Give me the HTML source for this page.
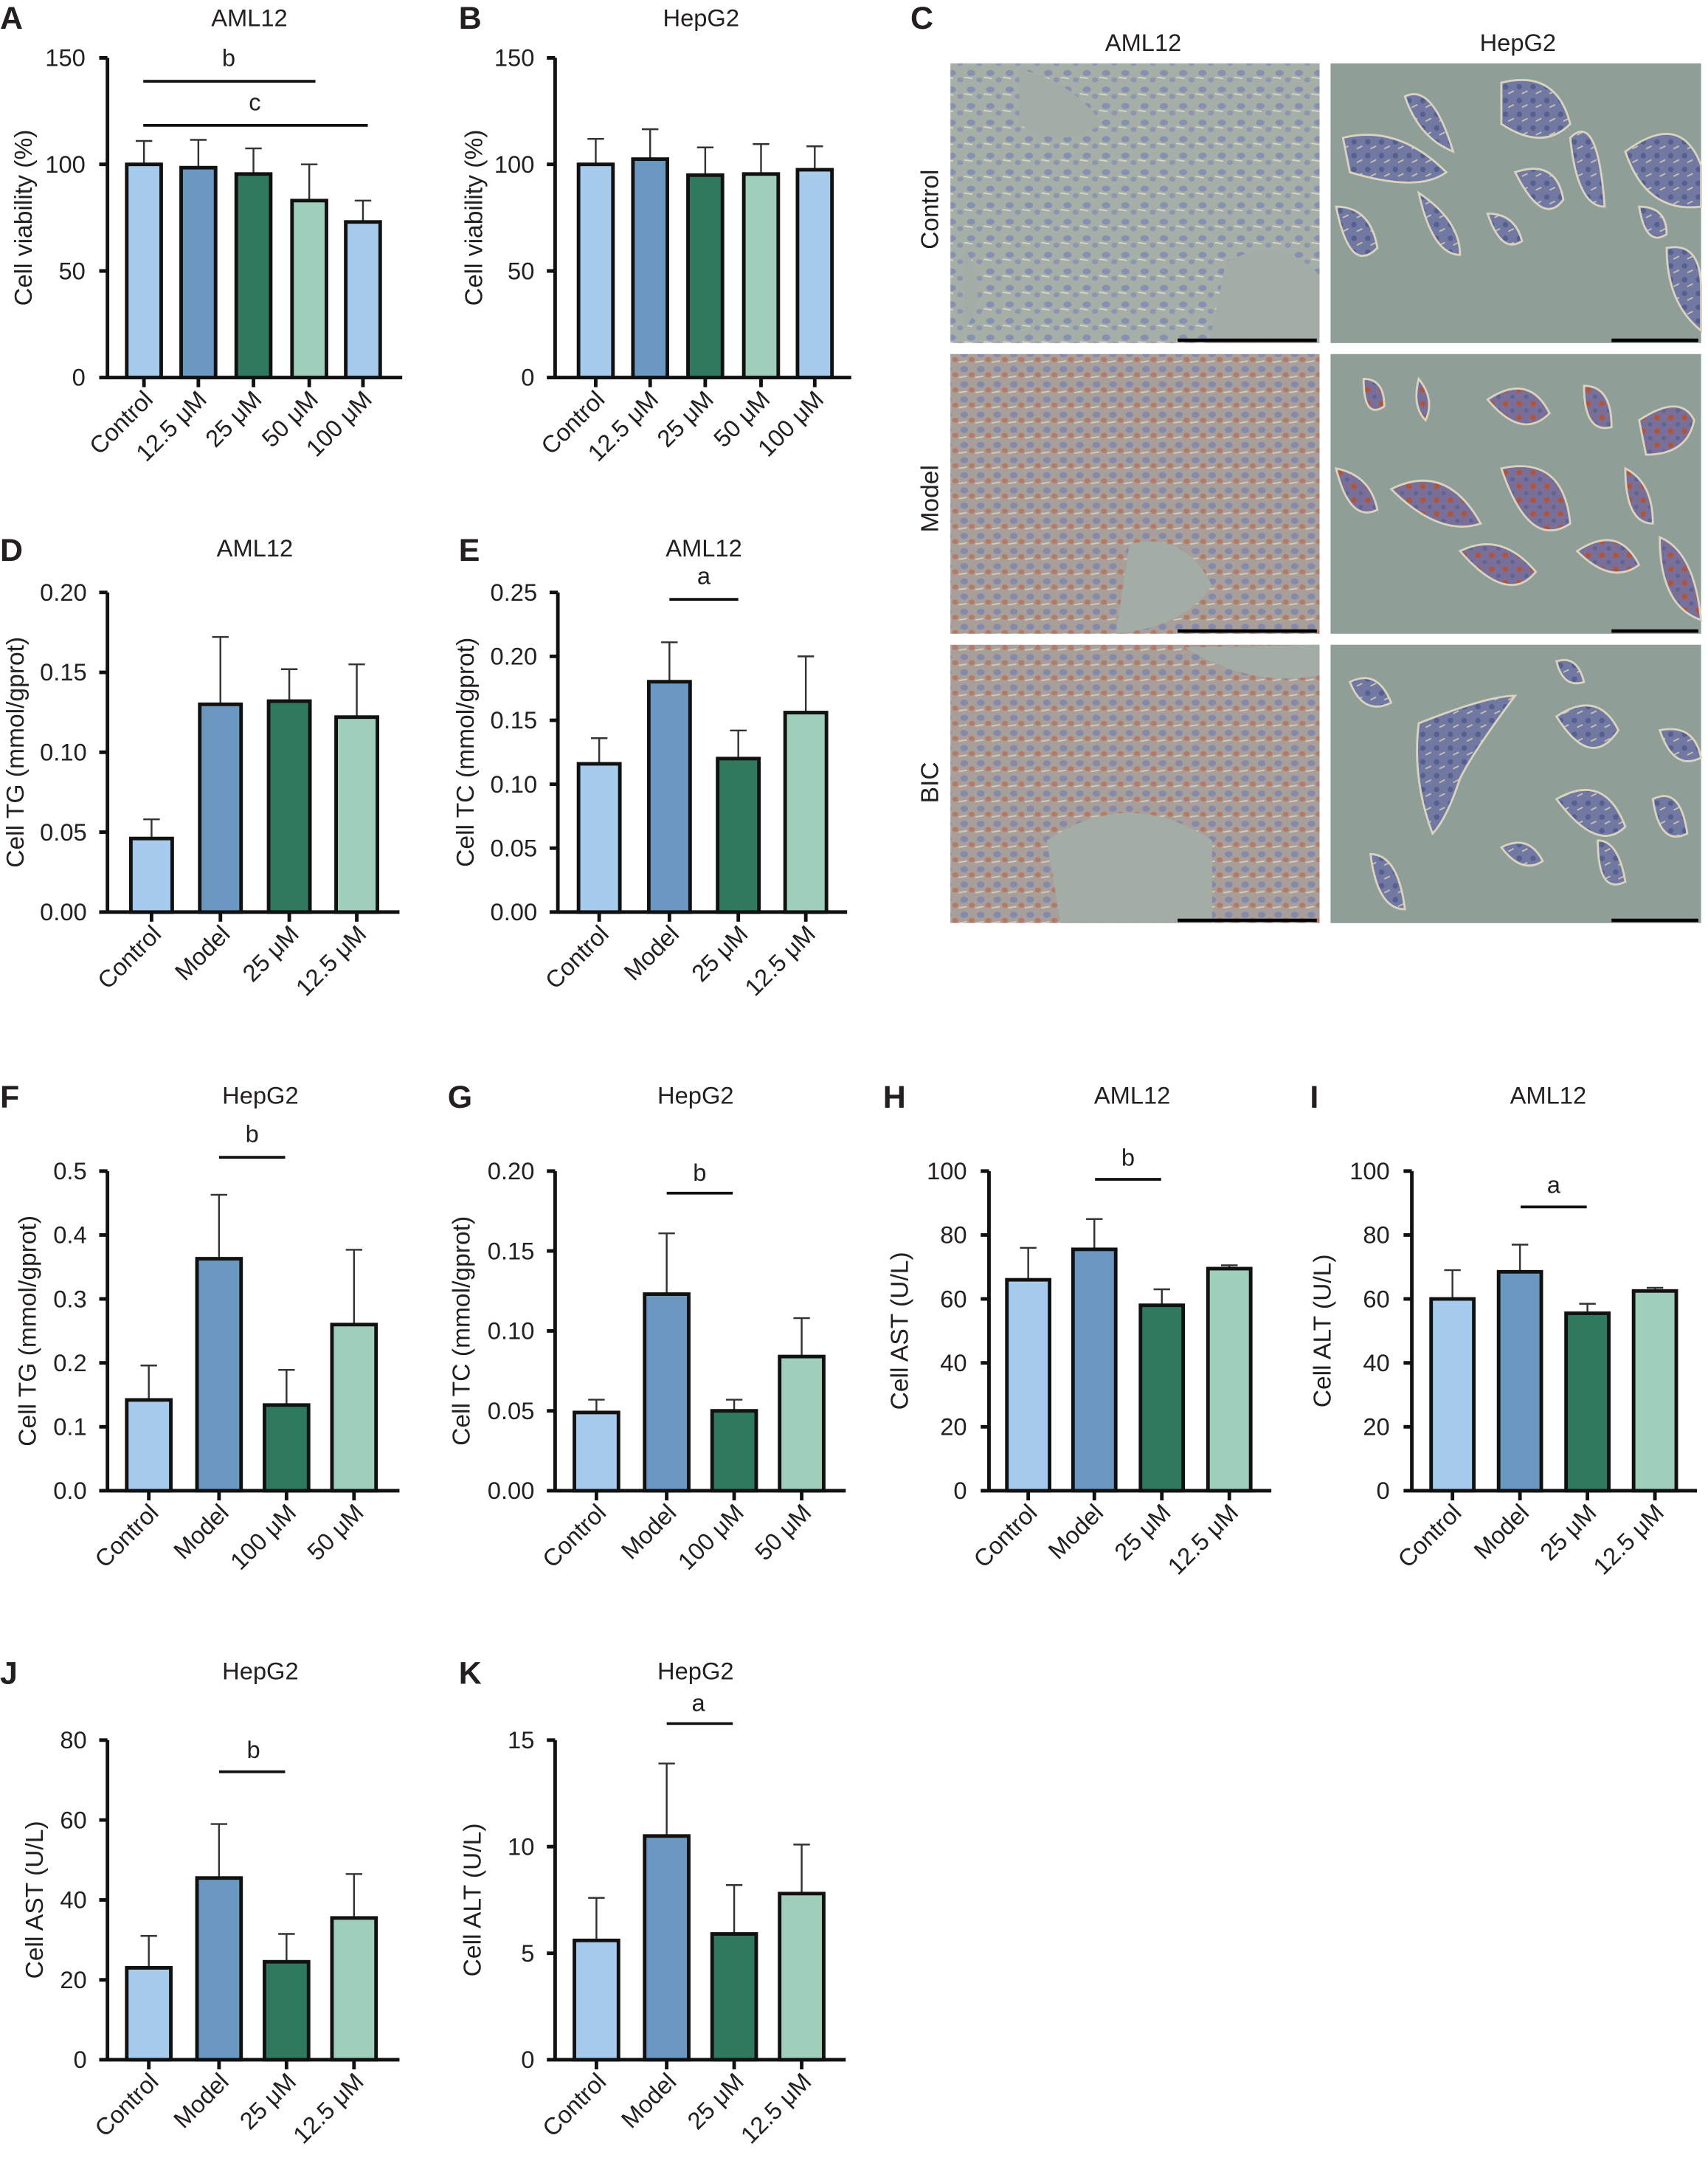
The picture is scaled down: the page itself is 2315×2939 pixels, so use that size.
<!DOCTYPE html>
<html><head><meta charset="utf-8"><style>
html,body{margin:0;padding:0;background:#fff}
svg{display:block}
text{font-family:"Liberation Sans",sans-serif;fill:#231f20}
.t{font-size:17.5px}
.ti{font-size:17.5px;text-anchor:middle}
.yl{font-size:18px;text-anchor:middle}
.L{font-size:23px;font-weight:bold}
.ax{stroke:#111;stroke-width:2.6;fill:none}
.eb{stroke:#333;stroke-width:1.3;fill:none}
.b{stroke:#111;stroke-width:2.6}
.lb{fill:#a7cbec}.mb{fill:#6a98c1}.dg{fill:#2f7a5f}.mt{fill:#9fcfbb}
</style></head><body>
<svg width="2315" height="2939" viewBox="0 0 1240 1574.3" xmlns="http://www.w3.org/2000/svg">
<defs>
<pattern id="pa" width="14" height="12" patternUnits="userSpaceOnUse"><rect width="14" height="12" fill="#a6aea8"/><ellipse cx="5" cy="5" rx="3" ry="2.2" fill="#8690b0"/><ellipse cx="11" cy="10" rx="2.2" ry="1.8" fill="#8d95b0"/><path d="M0 8 L6 9" stroke="#d8d6c4" stroke-width="1"/></pattern>
<pattern id="pm" width="12" height="11" patternUnits="userSpaceOnUse"><rect width="12" height="11" fill="#a89f9a"/><ellipse cx="4" cy="4" rx="2.8" ry="2.2" fill="#8589ab"/><ellipse cx="9.5" cy="8" rx="2.2" ry="1.8" fill="#b47a66"/><path d="M0 10 L6 9" stroke="#d6cbbf" stroke-width="1"/></pattern>
<pattern id="hc" width="10" height="10" patternUnits="userSpaceOnUse"><rect width="10" height="10" fill="#7179a3"/><circle cx="3" cy="3" r="2" fill="#56608f"/><path d="M5 8 L9 6" stroke="#c9c3b0" stroke-width="1"/></pattern>
<pattern id="hm" width="10" height="10" patternUnits="userSpaceOnUse"><rect width="10" height="10" fill="#7a6f98"/><circle cx="3" cy="3" r="2" fill="#b0553a"/><circle cx="8" cy="8" r="1.6" fill="#5d6593"/></pattern>
</defs>

<!-- ===== A ===== -->
<text class="L" x="0" y="21">A</text>
<text class="ti" x="181" y="19">AML12</text>
<text class="yl" transform="translate(23,158) rotate(-90)">Cell viability (%)</text>
<g class="t" text-anchor="end">
<text x="62" y="48">150</text><text x="62" y="125.3">100</text><text x="62" y="202.7">50</text><text x="62" y="280">0</text></g>
<path class="ax" d="M78 42V274M72 42H78M72 119.3H78M72 196.7H78M72 274H78M78 274H292M104.5 274v7M144 274v7M184 274v7M224.5 274v7M263.5 274v7"/>
<path class="eb" d="M104.5 119.3V102.3M98.5 102.3h12M144 121.7V101.5M138 101.5h12M184 126.3V107.7M178 107.7h12M224.5 145.6V119.3M218.5 119.3h12M263.5 161.1V145.6M257.5 145.6h12"/>
<rect class="b lb" x="92" y="119.3" width="25" height="154.7"/><rect class="b mb" x="131.5" y="121.7" width="25" height="152.3"/><rect class="b dg" x="171.5" y="126.3" width="25" height="147.7"/><rect class="b mt" x="212" y="145.6" width="25" height="128.4"/><rect class="b lb" x="251" y="161.1" width="25" height="112.9"/>
<path class="ax" style="stroke-width:2" d="M104 59H229M104 91H267"/>
<text class="t" x="166" y="48" text-anchor="middle">b</text><text class="t" x="185" y="80" text-anchor="middle">c</text>
<g class="t" text-anchor="end">
<text transform="translate(112,291) rotate(-45)">Control</text><text transform="translate(151,291) rotate(-45)">12.5 μM</text><text transform="translate(191,291) rotate(-45)">25 μM</text><text transform="translate(232,291) rotate(-45)">50 μM</text><text transform="translate(271,291) rotate(-45)">100 μM</text></g>

<!-- ===== B ===== -->
<text class="L" x="333" y="21">B</text>
<text class="ti" x="509" y="19">HepG2</text>
<text class="yl" transform="translate(350,158) rotate(-90)">Cell viability (%)</text>
<g class="t" text-anchor="end">
<text x="388" y="48">150</text><text x="388" y="125.3">100</text><text x="388" y="202.7">50</text><text x="388" y="280">0</text></g>
<path class="ax" d="M403 42V274M397 42H403M397 119.3H403M397 196.7H403M397 274H403M403 274H618M432.5 274v7M472 274v7M512 274v7M552.5 274v7M591.5 274v7"/>
<path class="eb" d="M432.5 119.3V100.8M426.5 100.8h12M472 115.5V93.8M466 93.8h12M512 127.1V107M506 107h12M552.5 126.3V104.6M546.5 104.6h12M591.5 123.2V106.2M585.5 106.2h12"/>
<rect class="b lb" x="420" y="119.3" width="25" height="154.7"/><rect class="b mb" x="459.5" y="115.5" width="25" height="158.5"/><rect class="b dg" x="499.5" y="127.1" width="25" height="146.9"/><rect class="b mt" x="540" y="126.3" width="25" height="147.7"/><rect class="b lb" x="579" y="123.2" width="25" height="150.8"/>
<g class="t" text-anchor="end">
<text transform="translate(440,291) rotate(-45)">Control</text><text transform="translate(479,291) rotate(-45)">12.5 μM</text><text transform="translate(519,291) rotate(-45)">25 μM</text><text transform="translate(560,291) rotate(-45)">50 μM</text><text transform="translate(599,291) rotate(-45)">100 μM</text></g>

<!-- ===== C ===== -->
<text class="L" x="661" y="21">C</text>
<text class="ti" x="830" y="37">AML12</text><text class="ti" x="1102" y="37">HepG2</text>
<text class="yl" transform="translate(681,152) rotate(-90)">Control</text>
<text class="yl" transform="translate(681,362) rotate(-90)">Model</text>
<text class="yl" transform="translate(681,568) rotate(-90)">BIC</text>
<rect x="690" y="46" width="268" height="203" fill="url(#pa)"/>
<rect x="690" y="257" width="268" height="203" fill="url(#pm)"/>
<rect x="690" y="468" width="268" height="202" fill="url(#pm)"/>
<g fill="#a3ada6"><path d="M740 50 q40 10 60 40 q-30 20 -60 0z"/><path d="M890 190 q40 -20 68 10 v49 h-80z"/><path d="M700 180 q20 30 0 60z"/><path d="M820 395 q40 -10 60 30 q-20 30 -70 35z"/><path d="M760 610 q60 -40 120 0 v60 h-110z"/><path d="M860 470 q50 30 98 20 v-22z"/></g>
<rect x="966" y="46" width="269" height="203" fill="#8f9e96"/>
<rect x="966" y="257" width="269" height="203" fill="#8f9e96"/>
<rect x="966" y="468" width="269" height="202" fill="#8f9e96"/>
<g fill="url(#hc)" stroke="#d9d3bf" stroke-width="1.5">
<path d="M975 100 q40 -10 75 25 q-20 15 -70 0z"/><path d="M1020 70 q20 -10 35 40 q-25 -10 -35 -40z"/><path d="M1090 60 q40 -10 50 30 q-20 20 -50 0z"/><path d="M1140 100 q20 -20 25 50 q-20 0 -25 -50z"/><path d="M1180 110 q40 -30 55 10 v30 q-40 5 -55 -40z"/><path d="M1100 125 q30 -10 35 20 q-15 20 -35 -20z"/><path d="M970 150 q25 0 30 30 q-20 20 -30 -30z"/><path d="M1030 140 q30 20 30 45 q-20 0 -30 -45z"/><path d="M1080 155 q20 0 25 20 q-15 10 -25 -20z"/><path d="M1190 150 q20 0 20 20 q-15 10 -20 -20z"/><path d="M1210 180 q25 -5 25 30 v30 q-25 -20 -25 -60z"/></g>
<g fill="url(#hm)" stroke="#d9d3bf" stroke-width="1.5">
<path d="M990 275 q15 0 15 20 q-15 10 -15 -20z"/><path d="M1030 275 q12 15 5 30 q-10 -10 -5 -30z"/><path d="M1080 290 q30 -20 45 10 q-20 20 -45 -10z"/><path d="M1150 280 q20 0 20 30 q-20 5 -20 -30z"/><path d="M1190 305 q30 -20 40 0 q-5 25 -35 25z"/><path d="M1010 355 q40 -20 65 25 q-30 10 -65 -25z"/><path d="M1090 340 q45 -10 50 40 q-30 20 -50 -40z"/><path d="M1180 340 q20 10 20 40 q-20 0 -20 -40z"/><path d="M1060 400 q30 -15 55 15 q-20 25 -55 -15z"/><path d="M1145 400 q30 -20 45 10 q-20 15 -45 -10z"/><path d="M1205 390 q25 10 30 60 q-30 -10 -30 -60z"/><path d="M970 340 q25 5 30 30 q-20 10 -30 -30z"/></g>
<g fill="url(#hc)" stroke="#d9d3bf" stroke-width="1.5">
<path d="M980 495 q20 -10 30 15 q-20 10 -30 -15z"/><path d="M1130 480 q15 -5 20 15 q-15 5 -20 -15z"/><path d="M1030 525 q50 -20 70 -20 q-30 40 -40 60 q-10 30 -20 40 q-15 -40 -10 -80z"/><path d="M1130 520 q30 -20 45 10 q-20 30 -45 -10z"/><path d="M1205 530 q25 -5 30 20 q-20 10 -30 -20z"/><path d="M1130 580 q35 -20 50 20 q-20 20 -50 -20z"/><path d="M1200 580 q20 -10 25 25 q-20 10 -25 -25z"/><path d="M1090 615 q20 -10 30 10 q-15 10 -30 -10z"/><path d="M1160 610 q15 0 20 30 q-20 10 -20 -30z"/><path d="M995 620 q20 0 25 40 q-20 0 -25 -40z"/></g>
<path stroke="#000" stroke-width="2.5" d="M855 247H956M1170 247H1233M855 458H956M1170 458H1233M855 668H956M1170 668H1233"/>

<!-- ===== D ===== -->
<text class="L" x="0" y="407">D</text>
<text class="ti" x="185" y="404">AML12</text>
<text class="yl" transform="translate(17,546) rotate(-90)">Cell TG (mmol/gprot)</text>
<g class="t" text-anchor="end">
<text x="63" y="436">0.20</text><text x="63" y="494">0.15</text><text x="63" y="552">0.10</text><text x="63" y="610">0.05</text><text x="63" y="668">0.00</text></g>
<path class="ax" d="M78 430V662M72 430H78M72 488H78M72 546H78M72 604H78M72 662H78M78 662H290M110 662v7M160 662v7M210 662v7M259 662v7"/>
<path class="eb" d="M110 608.6V594.7M104 594.7h12M160 511.2V462.3M154 462.3h12M210 508.9V485.7M204 485.7h12M259 520.5V482.2M253 482.2h12"/>
<rect class="b lb" x="95" y="608.6" width="30" height="53.4"/><rect class="b mb" x="145" y="511.2" width="30" height="150.8"/><rect class="b dg" x="195" y="508.9" width="30" height="153.1"/><rect class="b mt" x="244" y="520.5" width="30" height="141.5"/>
<g class="t" text-anchor="end">
<text transform="translate(118,679) rotate(-45)">Control</text><text transform="translate(168,679) rotate(-45)">Model</text><text transform="translate(218,679) rotate(-45)">25 μM</text><text transform="translate(267,679) rotate(-45)">12.5 μM</text></g>

<!-- ===== E ===== -->
<text class="L" x="333" y="407">E</text>
<text class="ti" x="511" y="404">AML12</text>
<text class="yl" transform="translate(344,546) rotate(-90)">Cell TC (mmol/gprot)</text>
<g class="t" text-anchor="end">
<text x="390" y="436">0.25</text><text x="390" y="482.4">0.20</text><text x="390" y="528.8">0.15</text><text x="390" y="575.2">0.10</text><text x="390" y="621.6">0.05</text><text x="390" y="668">0.00</text></g>
<path class="ax" d="M405 430V662M399 430H405M399 476.4H405M399 522.8H405M399 569.2H405M399 615.6H405M399 662H405M405 662H615M435 662v7M486 662v7M536 662v7M585 662v7"/>
<path class="eb" d="M435 554.4V535.8M429 535.8h12M486 494.8V466.2M480 466.2h12M536 550.6V530.2M530 530.2h12M585 517.2V476.4M579 476.4h12"/>
<rect class="b lb" x="420" y="554.4" width="30" height="107.6"/><rect class="b mb" x="471" y="494.8" width="30" height="167.2"/><rect class="b dg" x="521" y="550.6" width="30" height="111.4"/><rect class="b mt" x="570" y="517.2" width="30" height="144.8"/>
<path class="ax" style="stroke-width:2" d="M486 435H536"/><text class="t" x="511" y="424" text-anchor="middle">a</text>
<g class="t" text-anchor="end">
<text transform="translate(443,679) rotate(-45)">Control</text><text transform="translate(494,679) rotate(-45)">Model</text><text transform="translate(544,679) rotate(-45)">25 μM</text><text transform="translate(593,679) rotate(-45)">12.5 μM</text></g>

<!-- ===== F ===== -->
<text class="L" x="0" y="804">F</text>
<text class="ti" x="189" y="801">HepG2</text>
<text class="yl" transform="translate(26,966) rotate(-90)">Cell TG (mmol/gprot)</text>
<g class="t" text-anchor="end">
<text x="63" y="856">0.5</text><text x="63" y="902.4">0.4</text><text x="63" y="948.8">0.3</text><text x="63" y="995.2">0.2</text><text x="63" y="1041.6">0.1</text><text x="63" y="1088">0.0</text></g>
<path class="ax" d="M78 850V1082M72 850H78M72 896.4H78M72 942.8H78M72 989.2H78M72 1035.6H78M72 1082H78M78 1082H290M108 1082v7M159 1082v7M208 1082v7M257 1082v7"/>
<path class="eb" d="M108 1016.1V991.1M102 991.1h12M159 913.6V867.2M153 867.2h12M208 1019.8V994.3M202 994.3h12M257 961.4V907.1M251 907.1h12"/>
<rect class="b lb" x="92" y="1016.1" width="32" height="65.9"/><rect class="b mb" x="143" y="913.6" width="32" height="168.4"/><rect class="b dg" x="192" y="1019.8" width="32" height="62.2"/><rect class="b mt" x="241" y="961.4" width="32" height="120.6"/>
<path class="ax" style="stroke-width:2" d="M159 840H207"/><text class="t" x="183" y="829" text-anchor="middle">b</text>
<g class="t" text-anchor="end">
<text transform="translate(116,1099) rotate(-45)">Control</text><text transform="translate(167,1099) rotate(-45)">Model</text><text transform="translate(216,1099) rotate(-45)">100 μM</text><text transform="translate(265,1099) rotate(-45)">50 μM</text></g>

<!-- ===== G ===== -->
<text class="L" x="325" y="804">G</text>
<text class="ti" x="505" y="801">HepG2</text>
<text class="yl" transform="translate(341,966) rotate(-90)">Cell TC (mmol/gprot)</text>
<g class="t" text-anchor="end">
<text x="388" y="856">0.20</text><text x="388" y="914">0.15</text><text x="388" y="972">0.10</text><text x="388" y="1030">0.05</text><text x="388" y="1088">0.00</text></g>
<path class="ax" d="M403 850V1082M397 850H403M397 908H403M397 966H403M397 1024H403M397 1082H403M403 1082H614M433 1082v7M484 1082v7M533 1082v7M582 1082v7"/>
<path class="eb" d="M433 1025.2V1015.9M427 1015.9h12M484 939.3V895.2M478 895.2h12M533 1024V1015.9M527 1015.9h12M582 984.6V956.7M576 956.7h12"/>
<rect class="b lb" x="417" y="1025.2" width="32" height="56.8"/><rect class="b mb" x="468" y="939.3" width="32" height="142.7"/><rect class="b dg" x="517" y="1024" width="32" height="58"/><rect class="b mt" x="566" y="984.6" width="32" height="97.4"/>
<path class="ax" style="stroke-width:2" d="M484 866H532"/><text class="t" x="508" y="857" text-anchor="middle">b</text>
<g class="t" text-anchor="end">
<text transform="translate(441,1099) rotate(-45)">Control</text><text transform="translate(492,1099) rotate(-45)">Model</text><text transform="translate(541,1099) rotate(-45)">100 μM</text><text transform="translate(590,1099) rotate(-45)">50 μM</text></g>

<!-- ===== H ===== -->
<text class="L" x="641" y="804">H</text>
<text class="ti" x="822" y="801">AML12</text>
<text class="yl" transform="translate(659,966) rotate(-90)">Cell AST (U/L)</text>
<g class="t" text-anchor="end">
<text x="702" y="856">100</text><text x="702" y="902.4">80</text><text x="702" y="948.8">60</text><text x="702" y="995.2">40</text><text x="702" y="1041.6">20</text><text x="702" y="1088">0</text></g>
<path class="ax" d="M718 850V1082M712 850H718M712 896.4H718M712 942.8H718M712 989.2H718M712 1035.6H718M712 1082H718M718 1082H923M746.5 1082v7M794.5 1082v7M843.5 1082v7M892.5 1082v7"/>
<path class="eb" d="M746.5 928.9V905.7M740.5 905.7h12M794.5 906.8V884.8M788.5 884.8h12M843.5 947.4V935.8M837.5 935.8h12M892.5 920.8V918.4M886.5 918.4h12"/>
<rect class="b lb" x="731" y="928.9" width="31" height="153.1"/><rect class="b mb" x="779" y="906.8" width="31" height="175.2"/><rect class="b dg" x="828" y="947.4" width="31" height="134.6"/><rect class="b mt" x="877" y="920.8" width="31" height="161.2"/>
<path class="ax" style="stroke-width:2" d="M795 856H843"/><text class="t" x="819" y="846" text-anchor="middle">b</text>
<g class="t" text-anchor="end">
<text transform="translate(754,1099) rotate(-45)">Control</text><text transform="translate(802,1099) rotate(-45)">Model</text><text transform="translate(851,1099) rotate(-45)">25 μM</text><text transform="translate(900,1099) rotate(-45)">12.5 μM</text></g>

<!-- ===== I ===== -->
<text class="L" x="951" y="804">I</text>
<text class="ti" x="1124" y="801">AML12</text>
<text class="yl" transform="translate(966,966) rotate(-90)">Cell ALT (U/L)</text>
<g class="t" text-anchor="end">
<text x="1009" y="856">100</text><text x="1009" y="902.4">80</text><text x="1009" y="948.8">60</text><text x="1009" y="995.2">40</text><text x="1009" y="1041.6">20</text><text x="1009" y="1088">0</text></g>
<path class="ax" d="M1025 850V1082M1019 850H1025M1019 896.4H1025M1019 942.8H1025M1019 989.2H1025M1019 1035.6H1025M1019 1082H1025M1025 1082H1232M1054.5 1082v7M1103.5 1082v7M1152.5 1082v7M1201.5 1082v7"/>
<path class="eb" d="M1054.5 942.8V921.9M1048.5 921.9h12M1103.5 923.1V903.4M1097.5 903.4h12M1152.5 953.2V946.3M1146.5 946.3h12M1201.5 937V934.7M1195.5 934.7h12"/>
<rect class="b lb" x="1039" y="942.8" width="31" height="139.2"/><rect class="b mb" x="1088" y="923.1" width="31" height="158.9"/><rect class="b dg" x="1137" y="953.2" width="31" height="128.8"/><rect class="b mt" x="1186" y="937" width="31" height="145"/>
<path class="ax" style="stroke-width:2" d="M1104 876H1152"/><text class="t" x="1128" y="866" text-anchor="middle">a</text>
<g class="t" text-anchor="end">
<text transform="translate(1062,1099) rotate(-45)">Control</text><text transform="translate(1111,1099) rotate(-45)">Model</text><text transform="translate(1160,1099) rotate(-45)">25 μM</text><text transform="translate(1209,1099) rotate(-45)">12.5 μM</text></g>

<!-- ===== J ===== -->
<text class="L" x="0" y="1222">J</text>
<text class="ti" x="189" y="1219">HepG2</text>
<text class="yl" transform="translate(31,1379) rotate(-90)">Cell AST (U/L)</text>
<g class="t" text-anchor="end">
<text x="63" y="1269">80</text><text x="63" y="1327">60</text><text x="63" y="1385">40</text><text x="63" y="1443">20</text><text x="63" y="1501">0</text></g>
<path class="ax" d="M78 1263V1495M72 1263H78M72 1321H78M72 1379H78M72 1437H78M72 1495H78M78 1495H290M108 1495v7M159 1495v7M208 1495v7M257 1495v7"/>
<path class="eb" d="M108 1428.3V1405.1M102 1405.1h12M159 1363.1V1323.9M153 1323.9h12M208 1423.9V1403.7M202 1403.7h12M257 1392.1V1360.2M251 1360.2h12"/>
<rect class="b lb" x="92" y="1428.3" width="32" height="66.7"/><rect class="b mb" x="143" y="1363.1" width="32" height="131.9"/><rect class="b dg" x="192" y="1423.9" width="32" height="71.1"/><rect class="b mt" x="241" y="1392.1" width="32" height="102.9"/>
<path class="ax" style="stroke-width:2" d="M159 1286H207"/><text class="t" x="184" y="1276" text-anchor="middle">b</text>
<g class="t" text-anchor="end">
<text transform="translate(116,1512) rotate(-45)">Control</text><text transform="translate(167,1512) rotate(-45)">Model</text><text transform="translate(216,1512) rotate(-45)">25 μM</text><text transform="translate(265,1512) rotate(-45)">12.5 μM</text></g>

<!-- ===== K ===== -->
<text class="L" x="333" y="1222">K</text>
<text class="ti" x="505" y="1219">HepG2</text>
<text class="yl" transform="translate(349,1379) rotate(-90)">Cell ALT (U/L)</text>
<g class="t" text-anchor="end">
<text x="388" y="1269">15</text><text x="388" y="1346.3">10</text><text x="388" y="1423.7">5</text><text x="388" y="1501">0</text></g>
<path class="ax" d="M403 1263V1495M397 1263H403M397 1340.3H403M397 1417.7H403M397 1495H403M403 1495H614M433 1495v7M484 1495v7M533 1495v7M582 1495v7"/>
<path class="eb" d="M433 1408.4V1377.5M427 1377.5h12M484 1332.6V1280M478 1280h12M533 1403.7V1368.2M527 1368.2h12M582 1374.4V1338.8M576 1338.8h12"/>
<rect class="b lb" x="417" y="1408.4" width="32" height="86.6"/><rect class="b mb" x="468" y="1332.6" width="32" height="162.4"/><rect class="b dg" x="517" y="1403.7" width="32" height="91.3"/><rect class="b mt" x="566" y="1374.4" width="32" height="120.6"/>
<path class="ax" style="stroke-width:2" d="M484 1251H532"/><text class="t" x="507" y="1242" text-anchor="middle">a</text>
<g class="t" text-anchor="end">
<text transform="translate(441,1512) rotate(-45)">Control</text><text transform="translate(492,1512) rotate(-45)">Model</text><text transform="translate(541,1512) rotate(-45)">25 μM</text><text transform="translate(590,1512) rotate(-45)">12.5 μM</text></g>
</svg>
</body></html>
